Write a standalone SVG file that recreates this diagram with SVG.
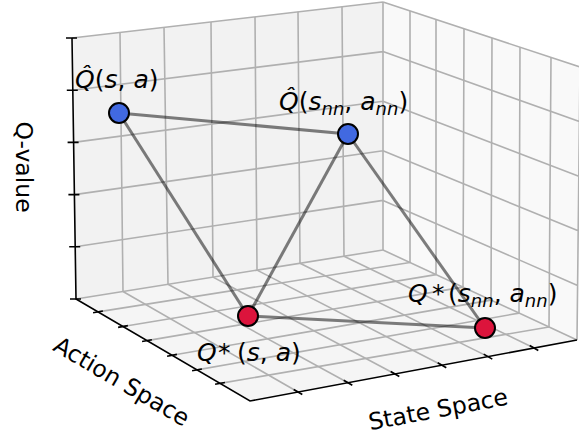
<svg xmlns="http://www.w3.org/2000/svg" width="579" height="435" viewBox="0 0 579 435">
<style>
text{font-family:"DejaVu Sans","Liberation Sans",sans-serif;fill:#000}
.ax{font-size:23.5px}
.m{font-size:25px}
.i{font-style:italic}
.sub{font-size:18px}
.grid{stroke:#b0b0b0;stroke-width:1.6;fill:none}
.axis{stroke:#000;stroke-width:1.6;fill:none}
.edge{stroke:#000;stroke-opacity:0.5;stroke-width:3;fill:none}
.pt{stroke:#000;stroke-width:2}
.blue{fill:#4169e1}
.red{fill:#dc143c}
</style>
<g id="panes">
<polygon points="72,38 383,2 383,250 76,299" fill="#f2f2f2"/>
<polygon points="383,2 580,67 577,340 383,250" fill="#f9f9f9"/>
<polygon points="76,299 383,250 577,340 250,401" fill="#f5f5f5"/>
</g>
<g id="grid" class="grid">
<path d="M120,32.4 L123,291.5 M164,27.3 L168,284.3 M211,21.9 L213,277.1 M255,16.8 L257,270.1 M298,11.8 L300,263.2 M342,6.7 L344,256.2"/>
<path d="M72,38 L383,2 M72.8,90.2 L383,51.6 M73.6,142.4 L383,101.2 M74.4,194.6 L383,150.8 M75.2,246.8 L383,200.4 M76,299 L383,250 M383,2 L383,250"/>
<path d="M383,2 L580,67 M383,51.6 L579.4,121.6 M383,101.2 L578.8,176.2 M383,150.8 L578.2,230.8 M383,200.4 L577.6,285.4 M383,250 L577,340 M580,67 L577,340"/>
<path d="M410,10.9 L410,262.5 M436,19.5 L436,274.6 M464,28.7 L463,287.1 M492,38 L491,300.1 M520,47.2 L519,313.1 M551,57.4 L549,327"/>
<path d="M123,291.5 L298,392 M168,284.3 L348,382.7 M213,277.1 L395,374 M257,270.1 L442,365.2 M300,263.2 L488,356.6 M344,256.2 L534,348"/>
<path d="M98,311.9 L410,262.5 M123,326.5 L436,274.6 M147,340.6 L463,287.1 M172,355.3 L491,300.1 M197,369.9 L519,313.1 M220,383.4 L549,327"/>
</g>
<g id="axes" class="axis">
<path d="M72,38 L76,299 L250,401 L577,340"/>
<path d="M66,38 H77 M66.8,90.2 H77.8 M67.6,142.4 H78.6 M68.4,194.6 H79.4 M69.2,246.8 H80.2 M70,299 H81"/>
<path d="M93.1,312.8 L102.9,311 M118.1,327.4 L127.9,325.6 M142.1,341.5 L151.9,339.7 M167.1,356.2 L176.9,354.4 M192.1,370.8 L201.9,369 M215.1,384.3 L224.9,382.5"/>
<path d="M293.7,389.5 L302.3,394.5 M343.7,380.2 L352.3,385.2 M390.7,371.5 L399.3,376.5 M437.7,362.7 L446.3,367.7 M483.7,354.1 L492.3,359.1 M529.7,345.5 L538.3,350.5"/>
</g>
<g id="connectors" class="edge">
<line x1="119" y1="113" x2="348" y2="134"/>
<line x1="119" y1="113" x2="248" y2="316"/>
<line x1="348" y1="134" x2="248" y2="316"/>
<line x1="348" y1="134" x2="485" y2="328"/>
<line x1="248" y1="316" x2="485" y2="328"/>
</g>
<g id="node-qhat-sa">
<circle class="pt blue" cx="119" cy="113" r="10"/>
<text class="m" x="75" y="88"><tspan class="i">Q̂</tspan>(<tspan class="i">s</tspan>, <tspan class="i">a</tspan>)</text>
</g>
<g id="node-qhat-snn">
<circle class="pt blue" cx="348" cy="134" r="10"/>
<text class="m" x="279" y="110"><tspan class="i">Q̂</tspan>(<tspan class="i">s</tspan><tspan class="i sub" dy="5">nn</tspan><tspan dy="-5">, </tspan><tspan class="i">a</tspan><tspan class="i sub" dy="5">nn</tspan><tspan dy="-5">)</tspan></text>
</g>
<g id="node-qstar-sa">
<circle class="pt red" cx="248" cy="316" r="10"/>
<text class="m" x="197" y="361"><tspan class="i">Q</tspan><tspan x="218">*</tspan><tspan x="237">(</tspan><tspan class="i">s</tspan>, <tspan class="i">a</tspan>)</text>
</g>
<g id="node-qstar-snn">
<circle class="pt red" cx="485" cy="328" r="10"/>
<text class="m" x="408" y="302"><tspan class="i">Q</tspan><tspan x="432">*</tspan><tspan x="448">(</tspan><tspan class="i">s</tspan><tspan class="i sub" dy="5">nn</tspan><tspan dy="-5">, </tspan><tspan class="i">a</tspan><tspan class="i sub" dy="5">nn</tspan><tspan dy="-5">)</tspan></text>
</g>
<g id="labels">
<text class="ax" transform="translate(24,167) rotate(90)" text-anchor="middle" y="8.5">Q-value</text>
<text class="ax" transform="translate(122,381) rotate(30.4)" text-anchor="middle" y="8.5">Action Space</text>
<text class="ax" transform="translate(438,409) rotate(-10.6)" text-anchor="middle" y="8.5">State Space</text>
</g>
</svg>
